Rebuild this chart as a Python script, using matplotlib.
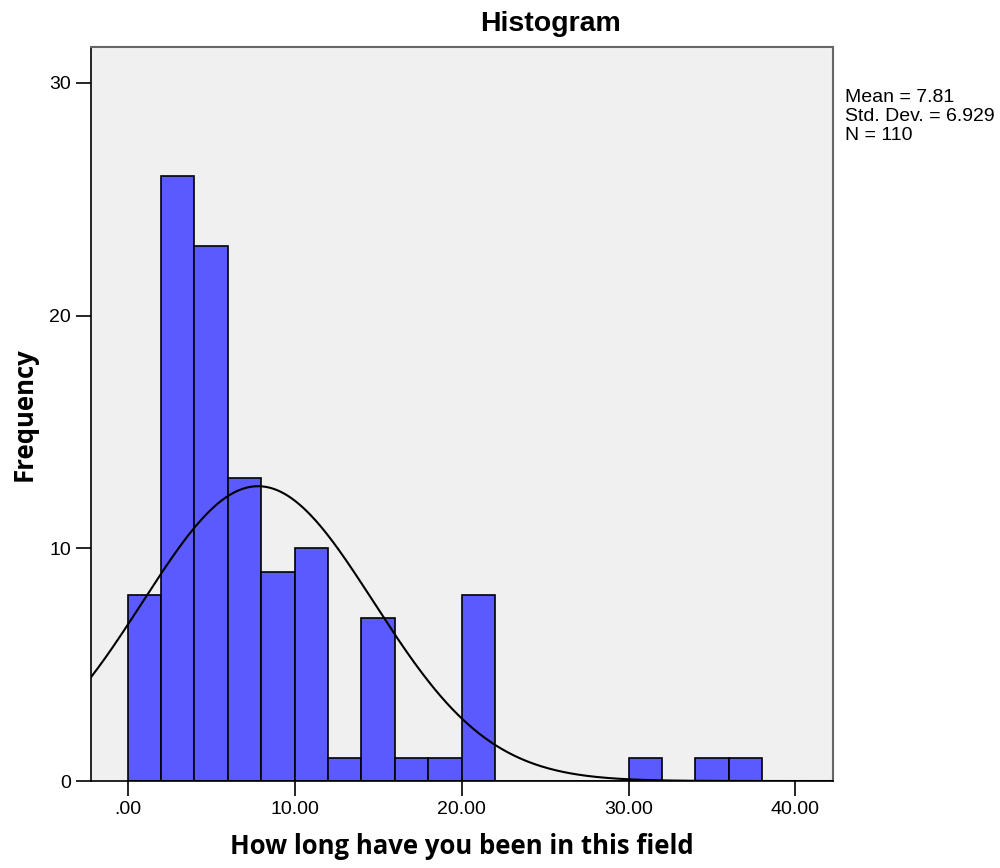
import numpy as np
import matplotlib.pyplot as plt

# Istogramma stile SPSS: anni nel settore
bin_edges = [0, 2, 4, 6, 8, 10, 12, 14, 16, 18, 20, 22, 24, 26, 28, 30, 32, 34, 36, 38]
counts    = [8, 26, 23, 13, 9, 10, 1, 7, 1, 1, 8, 0, 0, 0, 0, 1, 0, 1, 1]

mean = 7.81
sd   = 6.929
n    = 110

xticks      = [0, 10, 20, 30, 40]
xticklabels = ['.00', '10.00', '20.00', '30.00', '40.00']
yticks      = [0, 10, 20, 30]

fig = plt.figure(figsize=(10, 8.68), dpi=100)
ax = fig.add_axes([0.091, 0.1002, 0.742, 0.846])
ax.set_facecolor('#f0f0f0')

lefts  = bin_edges[:-1]
widths = np.diff(bin_edges)
ax.bar(lefts, counts, width=widths, align='edge', color='#5a5aff',
       edgecolor='black', linewidth=1.2, zorder=2)

# Curva normale scalata
xmin, xmax = -2.2, 42.25
xs = np.linspace(xmin, xmax, 400)
bw = 2
ys = n * bw / (sd * np.sqrt(2 * np.pi)) * np.exp(-0.5 * ((xs - mean) / sd) ** 2)
ax.plot(xs, ys, color='black', linewidth=1.5, zorder=3)

ax.set_xlim(xmin, xmax)
ax.set_ylim(0, 31.55)
ax.set_xticks(xticks)
ax.set_xticklabels(xticklabels)
ax.set_yticks(yticks)
ax.tick_params(axis='both', direction='out', length=11, width=1.2,
               labelsize=14, colors='black')
for lab in ax.get_xticklabels() + ax.get_yticklabels():
    lab.set_family('Liberation Sans')

for side in ['left', 'bottom']:
    ax.spines[side].set_color('black')
    ax.spines[side].set_linewidth(1.2)
for side in ['top', 'right']:
    ax.spines[side].set_color('#666666')
    ax.spines[side].set_linewidth(1.5)

ax.set_xlabel('How long have you been in this field', family='Open Sans',
              fontweight='bold', fontsize=18.5, labelpad=11)
ax.set_ylabel('Frequency', family='Open Sans', fontweight='bold',
              fontsize=18.5, labelpad=8)

fig.text(0.55, 0.972, 'Histogram', family='Liberation Sans', fontweight='bold',
         fontsize=20.5, ha='center', va='center')

fig.text(0.845, 0.897, 'Mean = 7.81\nStd. Dev. = 6.929\nN = 110',
         family='Liberation Sans', fontsize=14, ha='left', va='top',
         linespacing=1.14)

fig.savefig('out.png', dpi=100)
